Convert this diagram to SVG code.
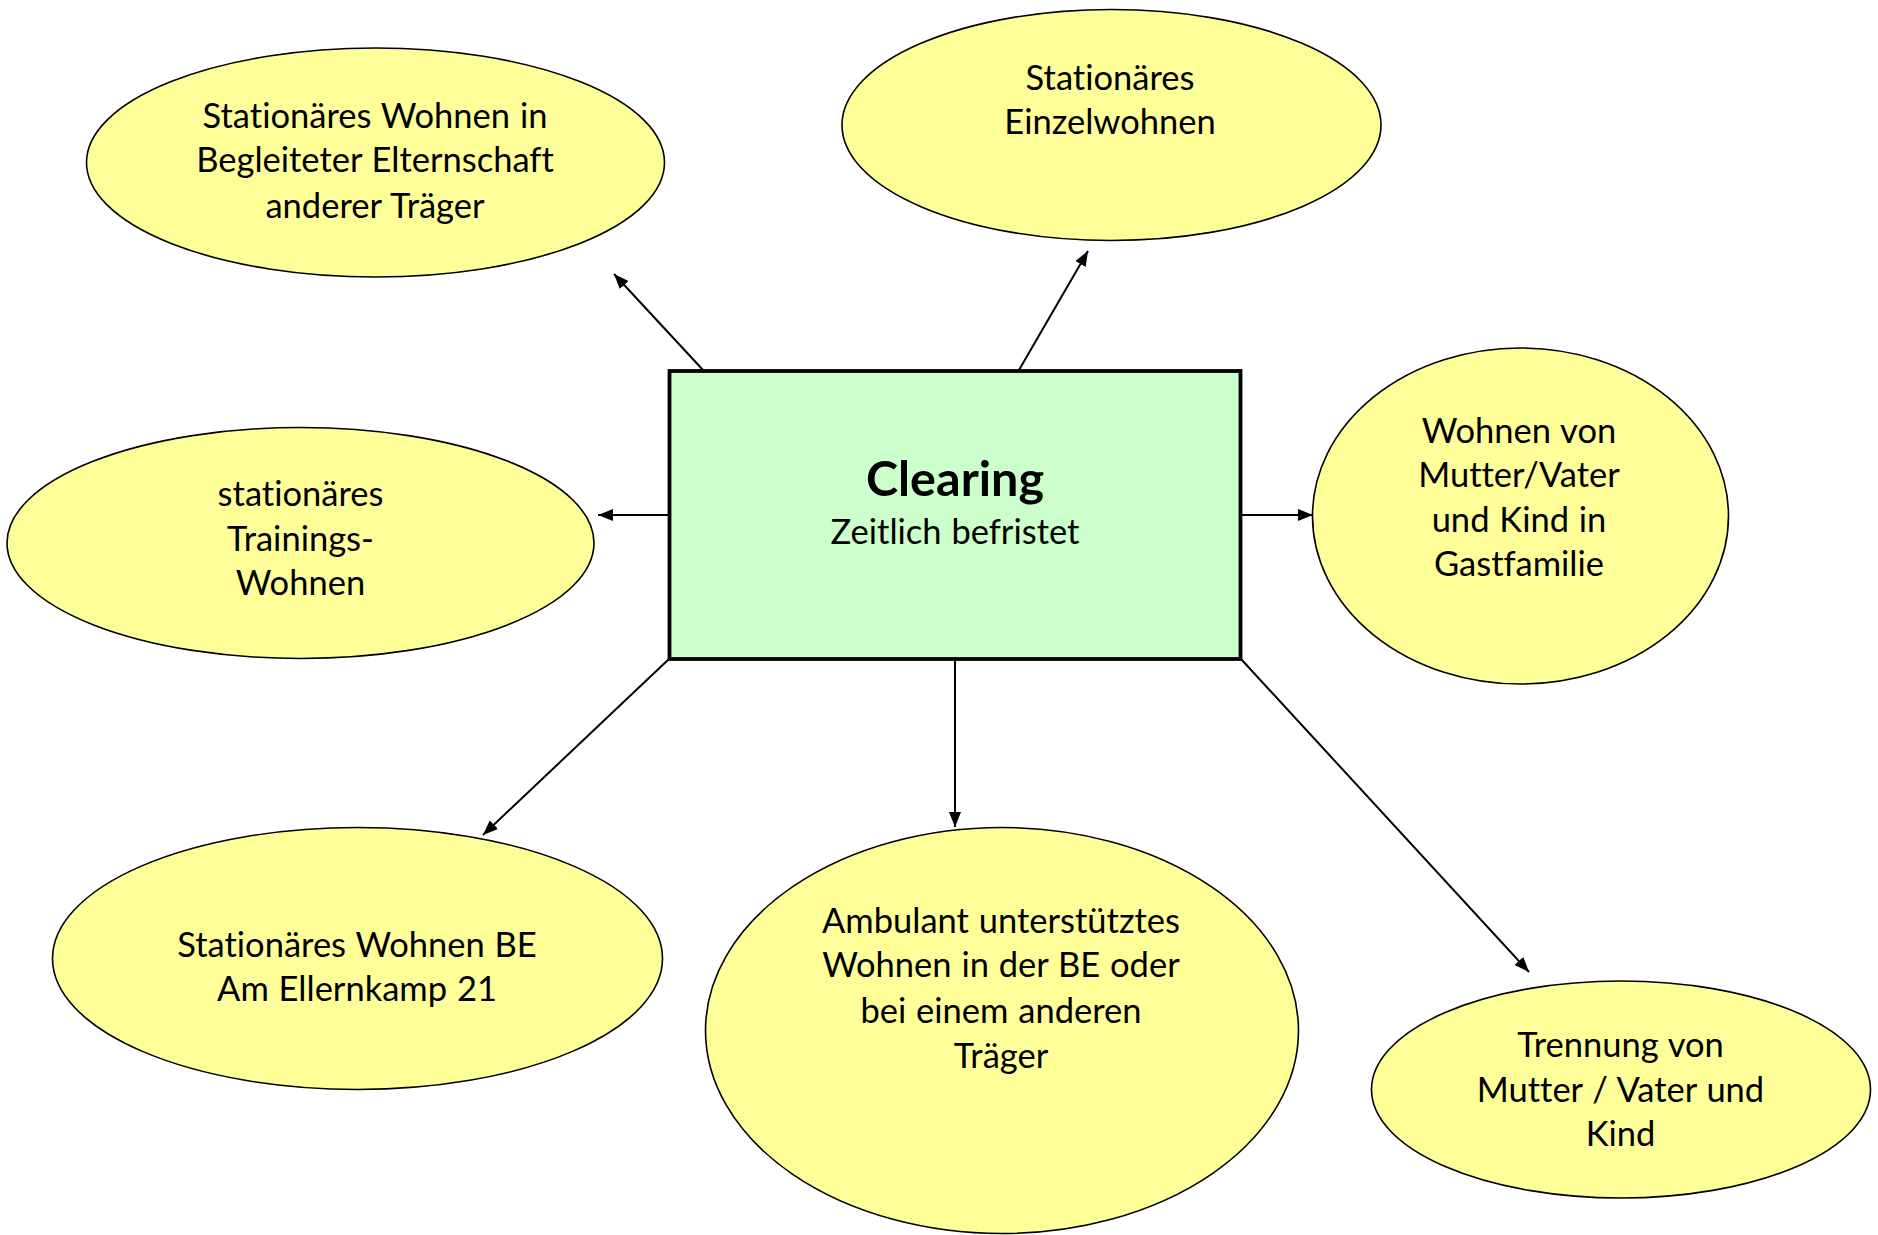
<svg xmlns="http://www.w3.org/2000/svg" width="1878" height="1235" viewBox="0 0 1878 1235">
<style>
.bg{fill:#ffffff}
.oval{fill:#ffff99;stroke:#000;stroke-width:1.6}
.box{fill:#ccffcc;stroke:#000;stroke-width:3.8}
.t{font-family:Lato,"Open Sans","DejaVu Sans",sans-serif;font-size:34.5px;fill:#000;text-anchor:middle;dominant-baseline:central;font-variant-ligatures:none;word-spacing:1px}
.title{font-family:Lato,"Open Sans","DejaVu Sans",sans-serif;font-size:48.5px;font-weight:bold;fill:#000;text-anchor:middle;dominant-baseline:central;font-variant-ligatures:none}
.conn{stroke:#000;stroke-width:2;fill:none;marker-end:url(#ah)}
</style>
<defs>
<marker id="ah" markerUnits="userSpaceOnUse" markerWidth="16" markerHeight="12" refX="15" refY="6" orient="auto">
<path d="M0,0 L15,6 L0,12 z" fill="#000"/>
</marker>
</defs>
<rect class="bg" x="0" y="0" width="1878" height="1235"/>
<g id="connectors">
<line class="conn" x1="703" y1="370" x2="614" y2="274"/>
<line class="conn" x1="1019" y1="370" x2="1088" y2="251"/>
<line class="conn" x1="669" y1="515" x2="598" y2="515"/>
<line class="conn" x1="1241" y1="515" x2="1313" y2="515"/>
<line class="conn" x1="669" y1="659" x2="483" y2="835"/>
<line class="conn" x1="955" y1="659" x2="955" y2="827"/>
<line class="conn" x1="1241" y1="659" x2="1529" y2="972"/>
</g>
<g id="clearing">
<rect class="box" x="669.5" y="371" width="571" height="288"/>
<text class="title" x="955" y="477">Clearing</text>
<text class="t" x="955" y="530">Zeitlich befristet</text>
</g>
<g id="n-begleitete">
<ellipse class="oval" cx="375.5" cy="162.5" rx="289" ry="114.5"/>
<text class="t" x="375" y="114">Stationäres Wohnen in</text>
<text class="t" x="375" y="158.5">Begleiteter Elternschaft</text>
<text class="t" x="375" y="204">anderer Träger</text>
</g>
<g id="n-einzel">
<ellipse class="oval" cx="1111.5" cy="125" rx="269.5" ry="115.5"/>
<text class="t" x="1110" y="76">Stationäres</text>
<text class="t" x="1110" y="120">Einzelwohnen</text>
</g>
<g id="n-gastfamilie">
<ellipse class="oval" cx="1520.5" cy="516" rx="208" ry="168"/>
<text class="t" x="1519" y="429">Wohnen von</text>
<text class="t" x="1519" y="473.5">Mutter/Vater</text>
<text class="t" x="1519" y="518">und Kind in</text>
<text class="t" x="1519" y="562">Gastfamilie</text>
</g>
<g id="n-training">
<ellipse class="oval" cx="300.5" cy="543" rx="293.5" ry="115.5"/>
<text class="t" x="300.5" y="492.5">stationäres</text>
<text class="t" x="300.5" y="537">Trainings-</text>
<text class="t" x="300.5" y="581.5">Wohnen</text>
</g>
<g id="n-ellernkamp">
<ellipse class="oval" cx="357.5" cy="958.5" rx="305" ry="131"/>
<text class="t" x="357" y="943">Stationäres Wohnen BE</text>
<text class="t" x="357" y="987.5">Am Ellernkamp 21</text>
</g>
<g id="n-ambulant">
<ellipse class="oval" cx="1002" cy="1030.5" rx="296.5" ry="203"/>
<text class="t" x="1001" y="919">Ambulant unterstütztes</text>
<text class="t" x="1001" y="963.5">Wohnen in der BE oder</text>
<text class="t" x="1001" y="1009">bei einem anderen</text>
<text class="t" x="1001" y="1054.5">Träger</text>
</g>
<g id="n-trennung">
<ellipse class="oval" cx="1621" cy="1089.5" rx="249.5" ry="108.5"/>
<text class="t" x="1620.5" y="1043.5">Trennung von</text>
<text class="t" x="1620.5" y="1088">Mutter / Vater und</text>
<text class="t" x="1620.5" y="1132">Kind</text>
</g>
</svg>
